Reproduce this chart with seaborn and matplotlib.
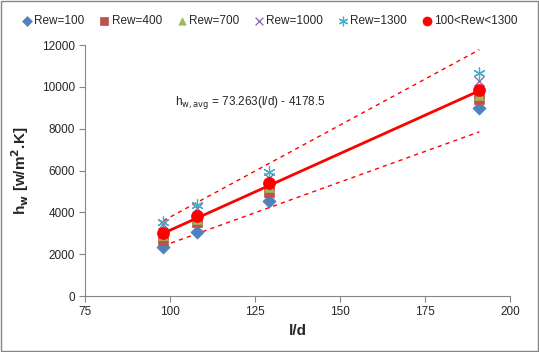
import numpy as np
import pandas as pd
import matplotlib
matplotlib.use("Agg")
import matplotlib.pyplot as plt
import seaborn as sns

# l/d values and heat transfer coefficients
l_d = [98, 108, 129, 191]
hw_100 = [2340, 3060, 4540, 8990]
hw_400 = [2680, 3540, 4970, 9420]
hw_700 = [2900, 3700, 5200, 9600]
hw_1000 = [3450, 4200, 5640, 10280]
hw_1300 = [3560, 4350, 5930, 10660]
hw_avg = [3010, 3820, 5400, 9850]

# linear fit of the average, with +/-20% band
fit_slope = 73.263
fit_intercept = -4178.5
band = 0.20

series = [
    ("Rew=100", hw_100, "D", "#4F81BD", 45),
    ("Rew=400", hw_400, "s", "#C0504D", 60),
    ("Rew=700", hw_700, "^", "#9BBB59", 50),
    ("Rew=1000", hw_1000, "x", "#8064A2", 55),
    ("Rew=1300", hw_1300, (6, 2, 0), "#4BACC6", 70),
    ("100<Rew<1300", hw_avg, "o", "#FF0000", 75),
]

sns.set_style("white")
plt.rcParams["font.family"] = ["Liberation Sans", "DejaVu Sans"]

fig = plt.figure(figsize=(5.39, 3.52), dpi=100)
ax = fig.add_axes([0.158, 0.159, 0.788, 0.713])

for name, vals, mk, col, sz in series:
    df = pd.DataFrame({"l/d": l_d, "hw": vals})
    if mk in ("x", (6, 2, 0)):
        sns.scatterplot(data=df, x="l/d", y="hw", marker=mk, color=col, s=sz,
                        linewidth=0.9, label=name, ax=ax, zorder=3)
    else:
        sns.scatterplot(data=df, x="l/d", y="hw", marker=mk, color=col, s=sz,
                        edgecolor=col, linewidth=0.5, label=name, ax=ax, zorder=3)

x_fit = np.array([l_d[0], l_d[-1]])
y_fit = fit_slope * x_fit + fit_intercept
sns.lineplot(x=x_fit, y=y_fit, color="#FF0000", linewidth=2, ax=ax, zorder=4, legend=False)
ax.plot(x_fit, y_fit * (1 + band), color="#FF0000", linestyle=(0, (3, 3)), linewidth=1, zorder=2)
ax.plot(x_fit, y_fit * (1 - band), color="#FF0000", linestyle=(0, (3, 3)), linewidth=1, zorder=2)

ax.text(101.5, 9250, r"h$_{\mathrm{w,avg}}$ = 73.263(l/d) - 4178.5", fontsize=8.5, va="center")

ax.set_xlim(75, 200)
ax.set_ylim(0, 12000)
ax.set_xticks([75, 100, 125, 150, 175, 200])
ax.set_yticks(range(0, 12001, 2000))
ax.set_xlabel("l/d", fontsize=11, fontweight="bold", labelpad=4)
ax.set_ylabel(r"h$_\mathbf{w}$ [w/m$^\mathbf{2}$.K]", fontsize=11, fontweight="bold", labelpad=8)
ax.tick_params(axis="both", labelsize=8.5, direction="out", length=4, color="#868686",
               left=True, bottom=True)
for side in ["top", "right"]:
    ax.spines[side].set_visible(False)
for side in ["left", "bottom"]:
    ax.spines[side].set_color("#868686")

handles, labels = ax.get_legend_handles_labels()
ax.get_legend().remove()
fig.legend(handles, labels, loc="center", bbox_to_anchor=(0.5, 0.94), ncol=6, frameon=False,
           fontsize=8.5, handletextpad=0.1, columnspacing=1.2, handlelength=1.0, markerscale=0.75)

fig.patches.append(plt.Rectangle((0.002, 0.002), 0.996, 0.994, transform=fig.transFigure,
                                 fill=False, edgecolor="#868686", linewidth=1))

fig.savefig("out.png", dpi=100)
